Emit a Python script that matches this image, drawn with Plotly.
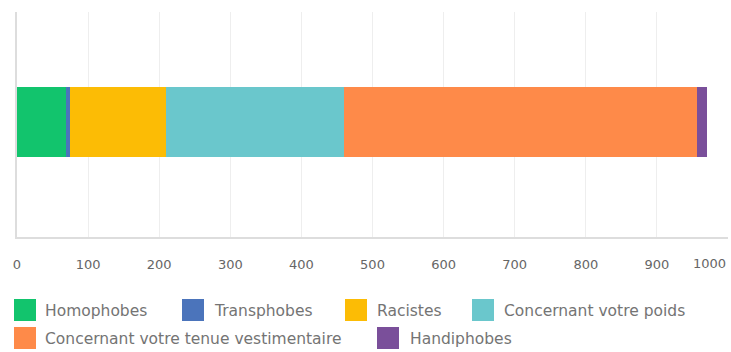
import plotly.graph_objects as go

# Répartition des remarques subies (barre empilée unique)
categories = ["Remarques"]
series_names = [
    "Homophobes",
    "Transphobes",
    "Racistes",
    "Concernant votre poids",
    "Concernant votre tenue vestimentaire",
    "Handiphobes",
]
series_values = [69, 5, 136, 250, 497, 13]
series_colors = ["#12c46d", "#4b74bb", "#fcbc05", "#6ac7cc", "#fe8a49", "#7a4f9a"]
tick_values = [0, 100, 200, 300, 400, 500, 600, 700, 800, 900]
tick_labels = ["0", "100", "200", "300", "400", "500", "600", "700", "800", "900"]

W, H = 731, 352
ML, MR, MT, MB = 17, 3, 12, 115
PW, PH = W - ML - MR, H - MT - MB

FONT = "DejaVu Sans"


def px_x(px):
    return (px - ML) / PW


def px_y(py):
    return (MT + PH - py) / PH


fig = go.Figure()
for name, val, col in zip(series_names, series_values, series_colors):
    fig.add_trace(go.Bar(
        y=categories, x=[val], name=name, orientation="h",
        marker=dict(color=col, line=dict(width=0)),
        width=0.31, showlegend=False,
        hovertemplate=name + ": %{x}<extra></extra>",
    ))

# Légende dessinée à la main : carrés de couleur + libellés
legend_items = [
    # (index série, x carré, y haut carré, x texte)
    (0, 14, 299, 43),
    (1, 182, 299, 212),
    (2, 345, 299, 375),
    (3, 472, 299, 502),
    (4, 14, 327, 43),
    (5, 377, 327, 408),
]
shapes = []
annotations = []
for idx, sx, sy, tx in legend_items:
    shapes.append(dict(
        type="rect", xref="paper", yref="paper",
        x0=px_x(sx), x1=px_x(sx + 22), y0=px_y(sy), y1=px_y(sy + 22),
        fillcolor=series_colors[idx], line=dict(width=0), layer="above",
    ))
    annotations.append(dict(
        xref="paper", yref="paper", x=px_x(tx), y=px_y(sy + 12),
        text=series_names[idx], showarrow=False, xanchor="left", yanchor="middle",
        font=dict(family=FONT, size=15.5, color="#747474"),
    ))

# Dernière graduation, recalée pour rester dans le cadre
annotations.append(dict(
    xref="x", yref="paper", x=1000, y=px_y(263),
    text="1000", showarrow=False, xanchor="right", yanchor="middle",
    font=dict(family=FONT, size=13, color="#666666"),
))

fig.update_layout(
    width=W, height=H,
    margin=dict(l=ML, r=MR, t=MT, b=MB, pad=0),
    barmode="stack",
    paper_bgcolor="white", plot_bgcolor="white",
    shapes=shapes, annotations=annotations,
    font=dict(family=FONT),
    xaxis=dict(
        range=[0, 1000], tickvals=tick_values + [1000], ticktext=tick_labels + [""],
        showgrid=True, gridcolor="#eeeeee", gridwidth=1,
        showline=True, linecolor="#dddddd", linewidth=2,
        zeroline=False, ticks="outside", ticklen=14, tickcolor="rgba(0,0,0,0)",
        tickfont=dict(family=FONT, size=13, color="#666666"),
        fixedrange=True,
    ),
    yaxis=dict(
        range=[-0.511, 0.489], showticklabels=False, showgrid=False,
        showline=True, linecolor="#dddddd", linewidth=2, zeroline=False,
        fixedrange=True,
    ),
)

fig.write_html("out.html")
